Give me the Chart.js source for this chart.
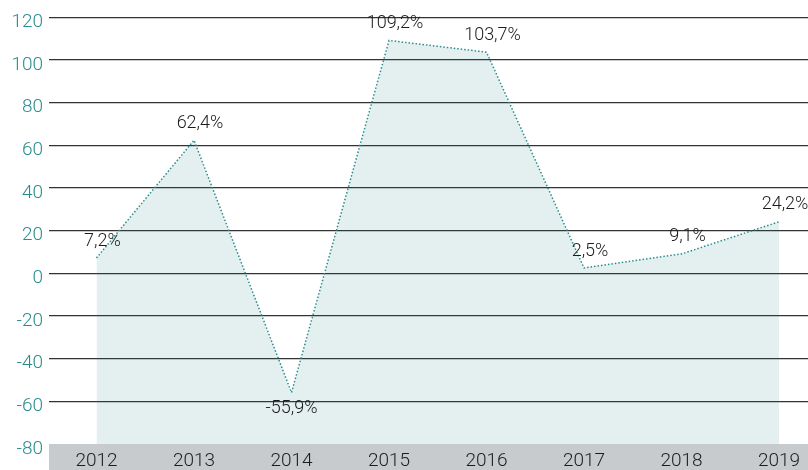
<!DOCTYPE html>
<html>
<head>
<meta charset="utf-8">
<title>Growth by year</title>
<script src="https://cdn.jsdelivr.net/npm/chart.js@4/dist/chart.umd.min.js"></script>
<style>
    html, body { margin: 0; padding: 0; background: #fff; }
    #wrap { width: 808px; height: 470px; }
</style>
</head>
<body>
<div id="wrap"><canvas id="growth" width="808" height="470"></canvas></div>
<script>
const years = ['2012', '2013', '2014', '2015', '2016', '2017', '2018', '2019'];
const growth = [7.2, 62.4, -55.9, 109.2, 103.7, 2.5, 9.1, 24.2];
const yTicks = [-80, -60, -40, -20, 0, 20, 40, 60, 80, 100, 120];

const TEAL = '#2a8c8e';
const FONT = 'Roboto';

// grey band behind the year labels
const yearBand = {
    id: 'yearBand',
    beforeDraw(chart) {
        const { ctx, chartArea } = chart;
        ctx.save();
        ctx.fillStyle = '#c8cbce';
        ctx.fillRect(chartArea.left, chartArea.bottom, chartArea.right - chartArea.left, chart.height - chartArea.bottom);
        ctx.restore();
    },
};

// percentage labels above (or below, for negatives) each point
const valueLabels = {
    id: 'valueLabels',
    afterDatasetsDraw(chart) {
        const { ctx } = chart;
        const meta = chart.getDatasetMeta(0);
        ctx.save();
        ctx.font = `300 18px ${FONT}`;
        ctx.fillStyle = '#1c1c1c';
        ctx.textAlign = 'center';
        meta.data.forEach((pt, i) => {
            const v = growth[i];
            const text = v.toFixed(1).replace('.', ',') + '%';
            if (v < 0) {
                ctx.textBaseline = 'top';
                ctx.fillText(text, pt.x, pt.y + 7);
            } else {
                ctx.textBaseline = 'bottom';
                ctx.fillText(text, pt.x + 6, pt.y - 8);
            }
        });
        ctx.restore();
    },
};

new Chart(document.getElementById('growth'), {
    type: 'line',
    data: {
        datasets: [{
            data: growth.map((v, i) => ({ x: i, y: v })),
            borderColor: TEAL,
            borderWidth: 1.5,
            borderDash: [1.5, 2],
            backgroundColor: 'rgba(30, 130, 130, 0.12)',
            fill: 'start',
            pointRadius: 0,
            tension: 0,
        }],
    },
    options: {
        responsive: false,
        animation: false,
        layout: { padding: { top: 16, right: 0, bottom: 0, left: 0 } },
        plugins: {
            legend: { display: false },
            tooltip: { enabled: false },
        },
        scales: {
            x: {
                type: 'linear',
                min: -0.487,
                max: 7.297,
                afterBuildTicks: (scale) => {
                    scale.ticks = years.map((_, i) => ({ value: i }));
                },
                afterFit: (scale) => {
                    scale.height = 26;
                },
                grid: { display: false, drawTicks: false },
                border: { display: false },
                ticks: {
                    padding: 6,
                    color: '#1c1c1c',
                    font: { family: FONT, size: 19, weight: 300 },
                    callback: (value) => years[value],
                    maxRotation: 0,
                    autoSkip: false,
                },
            },
            y: {
                min: -80,
                max: 120,
                afterBuildTicks: (scale) => {
                    scale.ticks = yTicks.map((v) => ({ value: v }));
                },
                afterFit: (scale) => {
                    scale.width = 49;
                },
                grid: {
                    color: (c) => (c.tick && c.tick.value === -80 ? 'rgba(0,0,0,0)' : '#333'),
                    lineWidth: 1.2,
                    drawTicks: false,
                },
                border: { display: false },
                ticks: {
                    padding: 6,
                    labelOffset: 5,
                    color: TEAL,
                    font: { family: FONT, size: 19, weight: 300 },
                },
            },
        },
    },
    plugins: [yearBand, valueLabels],
});
</script>
</body>
</html>
